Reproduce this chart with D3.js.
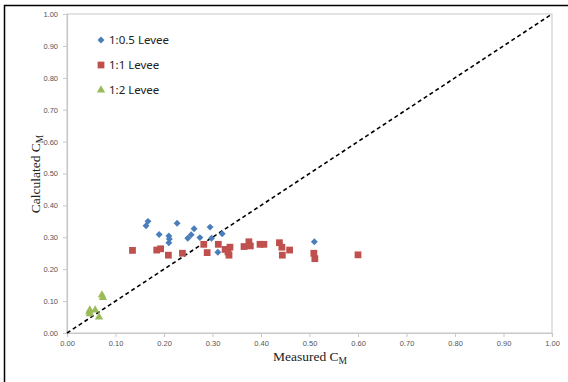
<!DOCTYPE html>
<html>
<head>
<meta charset="utf-8">
<script src="https://cdn.jsdelivr.net/npm/d3@7"></script>
<style>
    body { margin: 0; background: #fff; }
</style>
</head>
<body>
<div id="chart"></div>
<script>
// Measured / calculated C_M for each levee slope
const levee05X = [0.167, 0.163, 0.190, 0.227, 0.210, 0.211, 0.210, 0.262, 0.256, 0.249, 0.274, 0.295, 0.298, 0.320, 0.311, 0.510];
const levee05Y = [0.350, 0.336, 0.309, 0.344, 0.304, 0.295, 0.283, 0.327, 0.308, 0.297, 0.299, 0.332, 0.297, 0.311, 0.253, 0.286];

const levee1X = [0.135, 0.185, 0.193, 0.209, 0.238, 0.282, 0.289, 0.312, 0.326, 0.336, 0.332, 0.334, 0.365, 0.375, 0.378, 0.398, 0.406, 0.438, 0.443, 0.444, 0.459, 0.509, 0.511, 0.600];
const levee1Y = [0.259, 0.260, 0.264, 0.244, 0.250, 0.278, 0.252, 0.278, 0.262, 0.269, 0.254, 0.244, 0.271, 0.286, 0.273, 0.278, 0.278, 0.283, 0.269, 0.244, 0.260, 0.250, 0.233, 0.245];

const levee2X = [0.072, 0.074, 0.047, 0.058, 0.047, 0.046, 0.066];
const levee2Y = [0.119, 0.111, 0.072, 0.072, 0.060, 0.066, 0.050];

const tickValues = [0, 0.1, 0.2, 0.3, 0.4, 0.5, 0.6, 0.7, 0.8, 0.9, 1.0];
const seriesNames = ["1:0.5 Levee", "1:1 Levee", "1:2 Levee"];
const seriesColors = ["#4A7EBB", "#C0504D", "#9BBB59"];
const seriesSymbols = [d3.symbolSquare, d3.symbolSquare, d3.symbolTriangle];
const symbolSizes = [24, 46, 30];
const symbolRotate = [45, 0, 0];

const width = 568, height = 382;

const svg = d3.select("#chart")
    .append("svg")
    .attr("width", width)
    .attr("height", height);

// outer frame (cut off at right and bottom in the picture)
svg.append("rect")
    .attr("x", 4.5).attr("y", 5.5)
    .attr("width", 600).attr("height", 400)
    .attr("fill", "none")
    .attr("stroke", "#000")
    .attr("stroke-width", 1.5);

const xScale = d3.scaleLinear().domain([0, 1]).range([67, 552]);
const yScale = d3.scaleLinear().domain([0, 1]).range([333, 14]);

// plot area border
svg.append("rect")
    .attr("x", xScale(0)).attr("y", yScale(1))
    .attr("width", xScale(1) - xScale(0))
    .attr("height", yScale(0) - yScale(1))
    .attr("fill", "none")
    .attr("stroke", "#D0D0D0")
    .attr("stroke-width", 1.2);

const xAxis = d3.axisBottom(xScale).tickValues(tickValues).tickFormat(d3.format(".2f")).tickSize(4).tickPadding(4);
const yAxis = d3.axisLeft(yScale).tickValues(tickValues).tickFormat(d3.format(".2f")).tickSize(4).tickPadding(5);

const styleAxis = g => {
    g.select(".domain").attr("stroke", "#C8C8C8").attr("stroke-width", 1.2);
    g.selectAll(".tick line").attr("stroke", "#C8C8C8");
    g.selectAll(".tick text")
        .attr("fill", "#555")
        .style("font-family", "Liberation Sans, Arial, sans-serif")
        .style("font-size", "7.5px");
};

svg.append("g")
    .attr("transform", `translate(0, ${yScale(0)})`)
    .call(xAxis)
    .call(styleAxis);

svg.append("g")
    .attr("transform", `translate(${xScale(0)}, 0)`)
    .call(yAxis)
    .call(styleAxis);

// 1:1 reference line
svg.append("line")
    .attr("x1", xScale(0)).attr("y1", yScale(0))
    .attr("x2", xScale(1)).attr("y2", yScale(1))
    .attr("stroke", "#000")
    .attr("stroke-width", 1.6)
    .attr("stroke-dasharray", "4,3");

// scatter points
const seriesData = [
    levee05X.map((x, i) => ({ x: x, y: levee05Y[i] })),
    levee1X.map((x, i) => ({ x: x, y: levee1Y[i] })),
    levee2X.map((x, i) => ({ x: x, y: levee2Y[i] }))
];

const marker = s => d3.symbol().type(seriesSymbols[s]).size(symbolSizes[s]);

seriesData.forEach((pts, s) => {
    svg.append("g")
        .selectAll("path")
        .data(pts)
        .enter()
        .append("path")
        .attr("transform", d => `translate(${xScale(d.x)}, ${yScale(d.y)}) rotate(${symbolRotate[s]})`)
        .attr("d", marker(s))
        .attr("fill", seriesColors[s]);
});

// legend
const legend = svg.append("g");
seriesNames.forEach((name, i) => {
    const ly = 40 + i * 25;
    legend.append("path")
        .attr("transform", `translate(101, ${ly}) rotate(${symbolRotate[i]})`)
        .attr("d", marker(i))
        .attr("fill", seriesColors[i]);
    legend.append("text")
        .attr("x", 109)
        .attr("y", ly + 4)
        .style("font-family", "Noto Sans, sans-serif")
        .style("font-size", "11.5px")
        .attr("fill", "#222")
        .text(name);
});

// axis titles
const xTitle = svg.append("text")
    .attr("x", 310)
    .attr("y", 361)
    .style("text-anchor", "middle")
    .style("font-family", "Liberation Serif, Times New Roman, serif")
    .style("font-size", "13.5px")
    .attr("fill", "#222")
    .text("Measured C");
xTitle.append("tspan").attr("dy", 3).style("font-size", "9.5px").text("M");

const yTitle = svg.append("text")
    .attr("transform", "translate(40, 174) rotate(-90)")
    .style("text-anchor", "middle")
    .style("font-family", "Liberation Serif, Times New Roman, serif")
    .style("font-size", "13.5px")
    .attr("fill", "#222")
    .text("Calculated C");
yTitle.append("tspan").attr("dy", 3).style("font-size", "9.5px").text("M");
</script>
</body>
</html>
